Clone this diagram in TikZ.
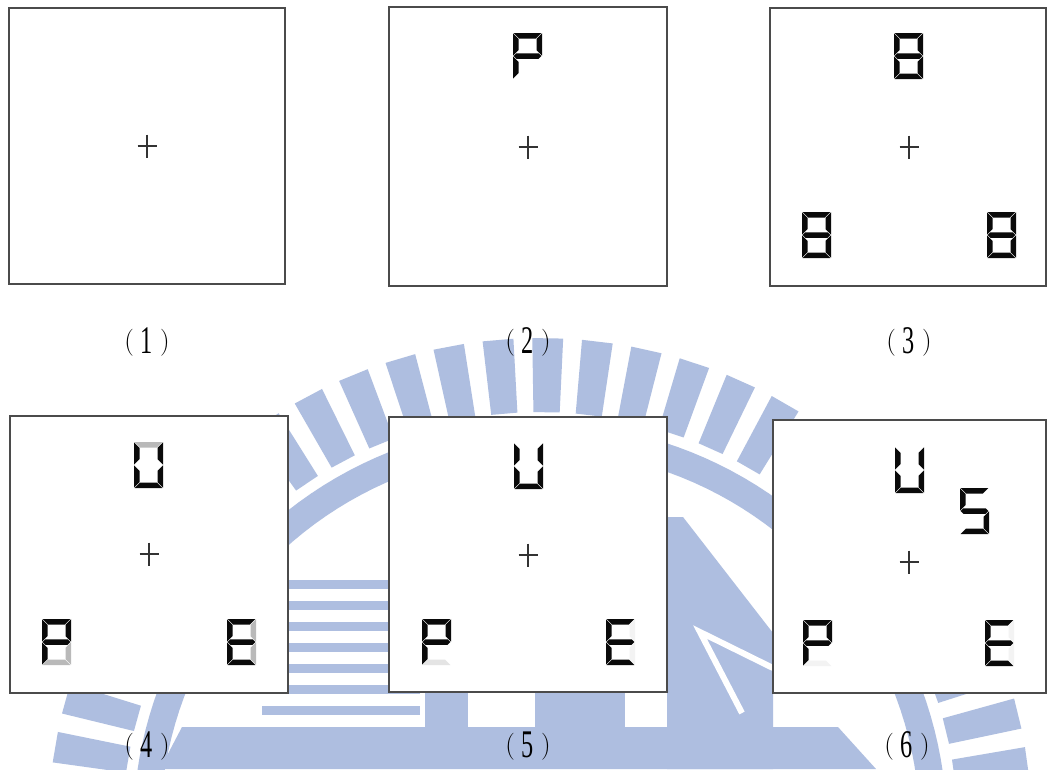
\documentclass[tikz,border=0pt]{standalone}
\usepackage{fontspec}
\usepackage{graphicx}
\newfontfamily\labdigit{Liberation Serif}
\definecolor{wm}{RGB}{174,190,224}
\definecolor{sK}{RGB}{10,10,10}
\definecolor{sG}{RGB}{185,185,185}
\definecolor{sL}{RGB}{228,228,228}
\definecolor{sF}{RGB}{243,243,243}
\definecolor{frm}{RGB}{75,75,75}
\newcommand{\segdigit}[9]{%
\begin{scope}[shift={(#1,#2)}]
\path[fill=#3] (0.7,0) -- (28.3,0) -- (22.8,5.5) -- (6.2,5.5) -- cycle;
\path[fill=#4] (29,0.3) -- (23.5,5.8) -- (23.5,17.2) -- (29,22.7) -- cycle;
\path[fill=#5] (29,23.3) -- (23.5,28.8) -- (23.5,40.2) -- (29,45.7) -- cycle;
\path[fill=#6] (0.7,46) -- (28.3,46) -- (22.8,40.5) -- (6.2,40.5) -- cycle;
\path[fill=#7] (0,23.3) -- (5.5,28.8) -- (5.5,40.2) -- (0,45.7) -- cycle;
\path[fill=#8] (0,0.3) -- (5.5,5.8) -- (5.5,17.2) -- (0,22.7) -- cycle;
\path[fill=#9] (0.7,23) -- (3.45,20.25) -- (25.55,20.25) -- (28.3,23) -- (25.55,25.75) -- (3.45,25.75) -- cycle;
\end{scope}}
\newcommand{\fixcross}[2]{\draw[crossline] (#1-9.5,#2) -- (#1+9.5,#2) (#1,#2-11.5) -- (#1,#2+11.5);}
\newcommand{\plab}[1]{(\hspace{7pt}\raisebox{-4.5pt}{\scalebox{0.9}[1.45]{\labdigit #1}}\hspace{7pt})}
\tikzset{
  panel/.style={draw=frm, line width=1.3pt, fill=white, inner sep=0pt, outer sep=0pt},
  crossline/.style={draw=black!80, line width=1.2pt},
  lab/.style={font=\fontsize{27}{27}\selectfont, inner sep=0pt, text=black}
}
\begin{document}
\begin{tikzpicture}[x=1pt, y=-1pt]
\useasboundingbox (0,0) rectangle (1047,769);
\fill[white] (0,0) rectangle (1047,769);
% ---------- watermark ----------
\begin{scope}
\clip (0,0) rectangle (1047,769);
\foreach \k in {0,...,30}{
  \pgfmathsetmacro{\a}{2.1+5.8*\k}
  \fill[wm] ({540+418*cos(\a-1.8)},{830-418*sin(\a-1.8)}) -- ({540+492*cos(\a-1.8)},{830-492*sin(\a-1.8)}) -- ({540+492*cos(\a+1.8)},{830-492*sin(\a+1.8)}) -- ({540+418*cos(\a+1.8)},{830-418*sin(\a+1.8)}) -- cycle;}
\fill[wm] plot[domain=8:172,samples=80] ({540+407*cos(\x)},{830-407*sin(\x)}) -- plot[domain=172:8,samples=80] ({540+380*cos(\x)},{830-380*sin(\x)}) -- cycle;
\foreach \yy in {580,601,622,643,664,685,706} \fill[wm] (262,\yy) rectangle (420,\yy+8.5);
\fill[wm] (160,769) -- (182,727) -- (838,727) -- (876,769) -- cycle;
\fill[wm] (425,693) rectangle (468,727);
\fill[wm] (535,693) rectangle (625,727);
\fill[wm] (667,517) -- (683,517) -- (773,633) -- (773,769) -- (667,769) -- cycle;
\draw[white, line width=6pt] (742,713) -- (700,632) -- (773,668);
\end{scope}
% ---------- panels ----------
\node[panel, minimum width=276pt, minimum height=276pt] (p1) at (147,146) {};
\node[panel, minimum width=278pt, minimum height=279pt] (p2) at (528,146.5) {};
\node[panel, minimum width=276pt, minimum height=278pt] (p3) at (908,147) {};
\node[panel, minimum width=278pt, minimum height=277pt] (p4) at (149,554.5) {};
\node[panel, minimum width=278pt, minimum height=275pt] (p5) at (528,554.5) {};
\node[panel, minimum width=273pt, minimum height=273pt] (p6) at (909.5,556.5) {};
% crosses
\fixcross{147}{146}
\fixcross{528}{147}
\fixcross{909}{147}
\fixcross{149}{554}
\fixcross{528}{555}
\fixcross{909}{562}
% digits: x y a b c d e f g
\segdigit{513}{33}{sK}{sK}{none}{none}{sK}{sK}{sK}
\segdigit{894}{33}{sK}{sK}{sK}{sK}{sK}{sK}{sK}
\segdigit{802}{212}{sK}{sK}{sK}{sK}{sK}{sK}{sK}
\segdigit{987}{212}{sK}{sK}{sK}{sK}{sK}{sK}{sK}
\segdigit{134}{442}{sG}{sK}{sK}{sK}{sK}{sK}{none}
\segdigit{42}{619}{sK}{sK}{sG}{sG}{sK}{sK}{sK}
\segdigit{227}{619}{sK}{sG}{sG}{sK}{sK}{sK}{sK}
\segdigit{514}{443}{none}{sK}{sK}{sK}{sK}{sK}{none}
\segdigit{422}{619}{sK}{sK}{none}{sL}{sK}{sK}{sK}
\segdigit{606}{619}{sK}{sF}{sF}{sK}{sK}{sK}{sK}
\segdigit{895}{447}{none}{sK}{sK}{sK}{sK}{sK}{none}
\segdigit{960}{488}{sK}{none}{sK}{sK}{none}{sK}{sK}
\segdigit{803}{620}{sK}{sK}{none}{sF}{sK}{sK}{sK}
\segdigit{985}{620}{sK}{sF}{sF}{sK}{sK}{sK}{sK}
% labels
\node[lab] (l1) at (147,342) {\plab{1}};
\node[lab] (l2) at (528,342) {\plab{2}};
\node[lab] (l3) at (909,342) {\plab{3}};
\node[lab] (l4) at (147,746) {\plab{4}};
\node[lab] (l5) at (528,746) {\plab{5}};
\node[lab] (l6) at (907,746) {\plab{6}};
\end{tikzpicture}
\end{document}
